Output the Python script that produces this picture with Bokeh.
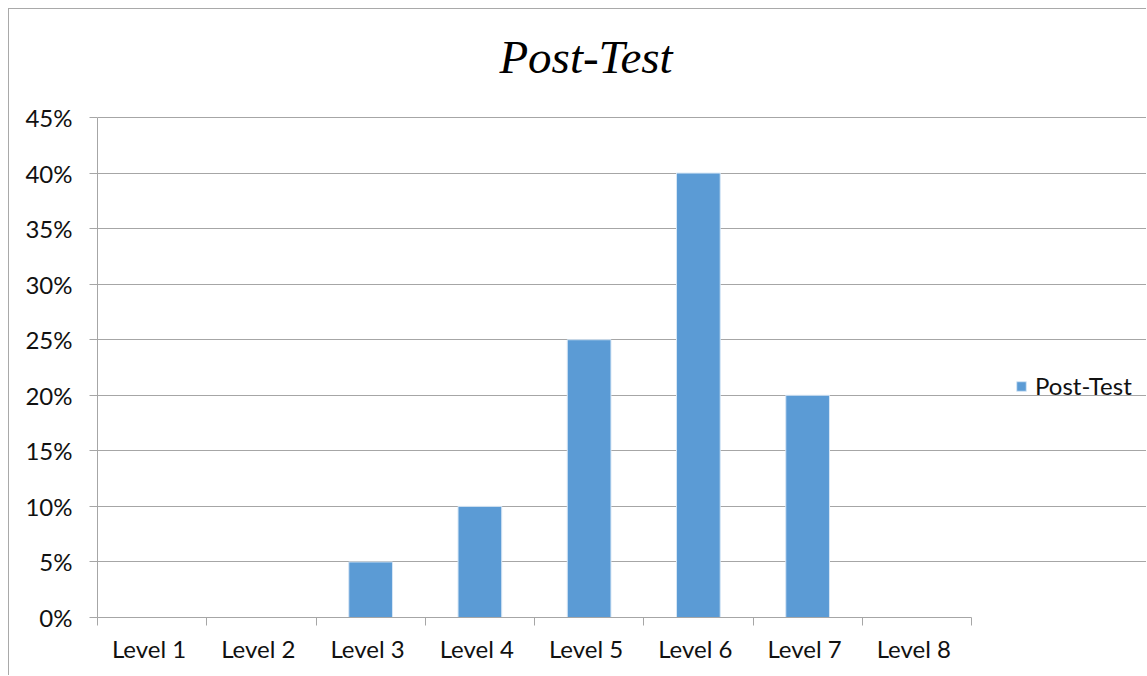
from bokeh.plotting import figure
from bokeh.models import ColumnDataSource, FixedTicker, Range1d, NumeralTickFormatter, Legend, LegendItem, Label
from bokeh.embed import file_html
from bokeh.resources import INLINE

# Data
levels = ["Level  1", "Level  2", "Level  3", "Level  4", "Level  5", "Level  6", "Level  7", "Level  8"]
post_test = [0.0, 0.0, 0.05, 0.10, 0.25, 0.40, 0.20, 0.0]
y_ticks = [0.0, 0.05, 0.10, 0.15, 0.20, 0.25, 0.30, 0.35, 0.40, 0.45]
series_name = "Post-Test"
chart_title = "Post-Test"

n = len(levels)
centers = [i + 0.5 for i in range(n)]
boundaries = [float(i) for i in range(n + 1)]
y_max = y_ticks[-1]

# layout (pixels)
W, H = 1138, 667
left, bottom = 88, 59
plot_w, plot_h = 874, 500           # size of the plotting area proper
frame_w, frame_h = W - left, H - bottom   # frame extends right/up to host legend and title
x_end = n * frame_w / plot_w
y_end = y_max * frame_h / plot_h

source = ColumnDataSource(dict(x=centers, top=post_test, level=levels))

p = figure(width=W, height=H, output_backend="svg", toolbar_location=None,
           x_range=Range1d(0, x_end), y_range=Range1d(0, y_end),
           min_border_left=left, min_border_right=0, min_border_top=0, min_border_bottom=bottom)
p.styles = {"margin-left": "8px", "margin-top": "8px",
            "border-top": "1px solid #a9a9a9", "border-left": "1px solid #a9a9a9"}

p.outline_line_color = None
p.background_fill_color = "white"
p.border_fill_color = "white"

grey = "#a6a6a6"
font = "Lato"
fs = "24px"

r = p.vbar(x="x", top="top", width=0.4, source=source, fill_color="#5b9bd5", line_color="#d6e6f5", line_width=1)

# axes
xa = p.xaxis[0]
xa.ticker = FixedTicker(ticks=centers, minor_ticks=boundaries)
xa.bounds = (0, n)
xa.major_label_overrides = {c: l for c, l in zip(centers, levels)}
xa.major_tick_line_color = None
xa.major_tick_out = 0
xa.major_tick_in = 0
xa.minor_tick_line_color = grey
xa.minor_tick_out = 8
xa.minor_tick_in = 0
xa.axis_line_color = grey
xa.major_label_text_font = font
xa.major_label_text_font_size = fs
xa.major_label_text_color = "#111111"
xa.major_label_standoff = 8

ya = p.yaxis[0]
ya.ticker = FixedTicker(ticks=y_ticks)
ya.bounds = (0, y_max)
ya.formatter = NumeralTickFormatter(format="0%")
ya.major_tick_line_color = grey
ya.major_tick_out = 8
ya.major_tick_in = 0
ya.minor_tick_line_color = None
ya.axis_line_color = grey
ya.major_label_text_font = font
ya.major_label_text_font_size = fs
ya.major_label_text_color = "#111111"
ya.major_label_standoff = 17

p.xgrid.grid_line_color = None
p.ygrid.grid_line_color = grey
p.ygrid.ticker = FixedTicker(ticks=y_ticks)
p.ygrid.bounds = (0, n)

# title (screen units relative to the frame)
title = Label(x=488.5, y=561, x_units="screen", y_units="screen", text=chart_title,
              text_font="Liberation Serif", text_font_style="italic", text_font_size="47px",
              text_color="#000000", text_align="center", text_baseline="alphabetic")
p.add_layout(title)

legend = Legend(items=[LegendItem(label=series_name, renderers=[r])], location=(918, 217),
                glyph_width=12, glyph_height=12, label_standoff=8, padding=0, margin=0,
                border_line_color=None, background_fill_alpha=0,
                label_text_font=font, label_text_font_size=fs, label_text_color="#111111")
p.add_layout(legend, "center")

open("out.html", "w").write(file_html(p, INLINE))
